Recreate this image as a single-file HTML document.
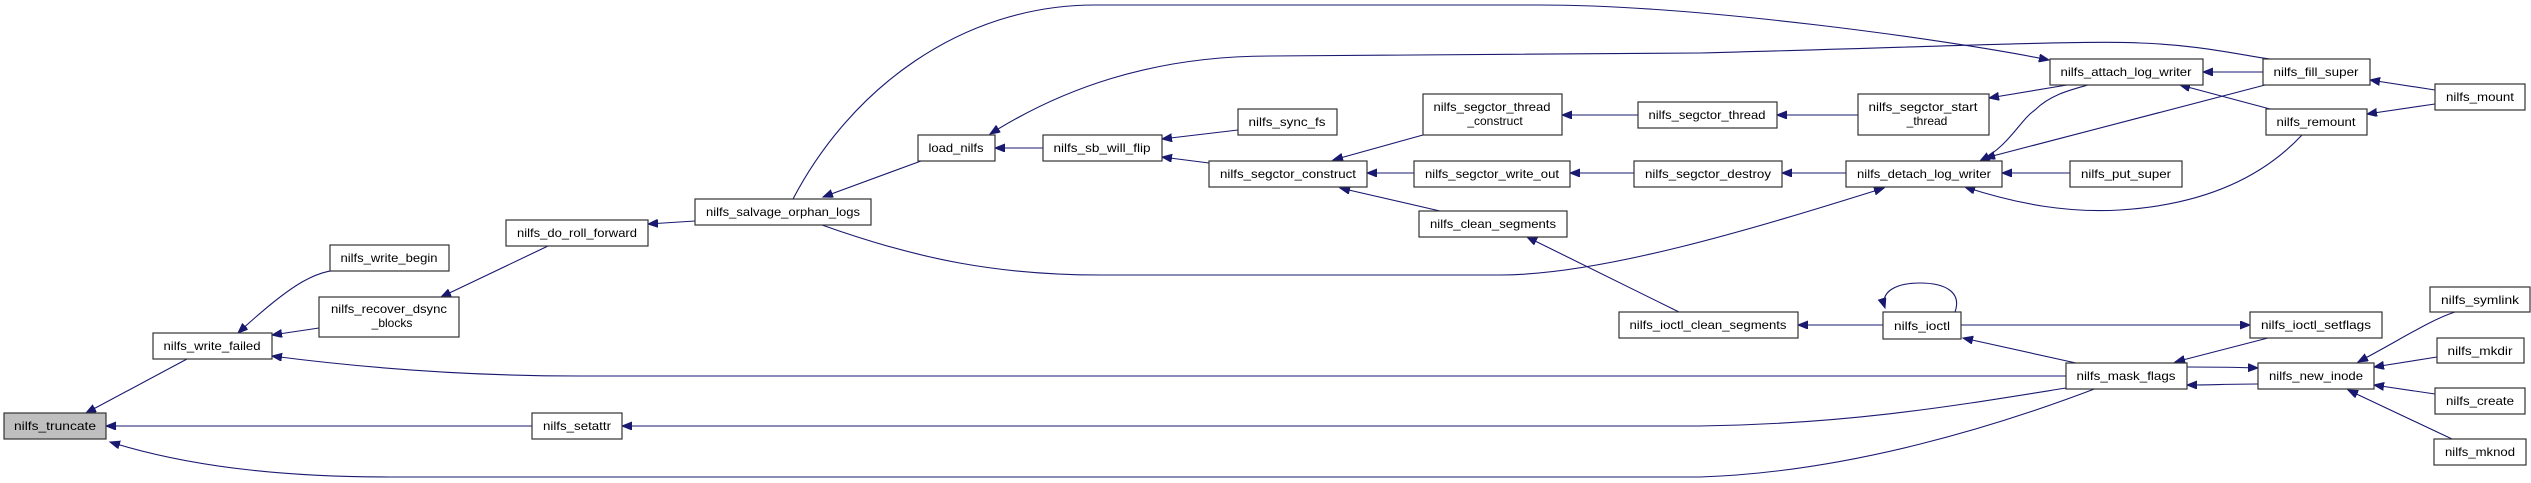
<!DOCTYPE html>
<html><head><meta charset="utf-8"><style>
html,body{margin:0;padding:0;background:#fff;}
svg{display:block;}
text{font-family:"Liberation Sans",sans-serif;font-size:12px;fill:#000;}
.n{fill:#fff;stroke:#333;stroke-width:1.2;}
.e{fill:none;stroke:#191970;stroke-width:1.1;}
</style></head><body>
<svg width="2531" height="483" viewBox="0 0 2531 483" xmlns="http://www.w3.org/2000/svg">
<defs>
<marker id="s" markerUnits="userSpaceOnUse" markerWidth="12" markerHeight="9" refX="10" refY="4" orient="auto-start-reverse"><path d="M0,0 L10,4 L0,8 z" fill="#191970" stroke="#191970"/></marker>
</defs>
<g class="e">
<path marker-start="url(#s)" d="M86,413 L187,359"/>
<path marker-start="url(#s)" d="M106,426 L532,426"/>
<path marker-start="url(#s)" d="M110,442 C200,470 300,477 390,477 L1700,477 C1850,472 2000,425 2097,388"/>
<path marker-start="url(#s)" d="M238,333 C290,285 320,265 352,271"/>
<path marker-start="url(#s)" d="M272,335 L319,328"/>
<path marker-start="url(#s)" d="M272,356 C380,370 480,376 580,376 L2066,376"/>
<path marker-start="url(#s)" d="M441,297 L548,246"/>
<path marker-start="url(#s)" d="M648,224 L695,221"/>
<path marker-start="url(#s)" d="M823,197 L921,161"/>
<path marker-start="url(#s)" d="M2049,60 C1950,40 1700,5 1540,5 L1095,5 C960,5 850,90 793,199"/>
<path marker-start="url(#s)" d="M1884,188 C1750,230 1600,275 1500,275 L1100,275 C1000,275 920,260 822,225"/>
<path marker-start="url(#s)" d="M990,134 C1060,90 1150,56 1270,56 L1700,53 C1900,48 2080,40 2140,43 C2200,45 2240,55 2270,59"/>
<path marker-start="url(#s)" d="M995,148 L1043,148"/>
<path marker-start="url(#s)" d="M1162,139 L1238,130"/>
<path marker-start="url(#s)" d="M1162,157 L1209,163"/>
<path marker-start="url(#s)" d="M1333,160 L1423,135"/>
<path marker-start="url(#s)" d="M1367,173 L1414,173"/>
<path marker-start="url(#s)" d="M1340,188 L1440,211"/>
<path marker-start="url(#s)" d="M1562,115 L1638,115"/>
<path marker-start="url(#s)" d="M1777,115 L1858,115"/>
<path marker-start="url(#s)" d="M1989,98 L2067,85"/>
<path marker-start="url(#s)" d="M1570,173 L1634,173"/>
<path marker-start="url(#s)" d="M1782,173 L1846,173"/>
<path marker-start="url(#s)" d="M1980,161 C2010,145 2020,120 2035,110 C2050,95 2070,90 2088,85"/>
<path marker-start="url(#s)" d="M1985,158 L2265,85"/>
<path marker-start="url(#s)" d="M2002,173 L2070,173"/>
<path marker-start="url(#s)" d="M1965,187 C2020,205 2070,213 2120,210 C2200,205 2260,180 2302,135"/>
<path marker-start="url(#s)" d="M2203,72 L2263,72"/>
<path marker-start="url(#s)" d="M2180,85 L2270,109"/>
<path marker-start="url(#s)" d="M2370,80 L2435,90"/>
<path marker-start="url(#s)" d="M2367,114 L2435,104"/>
<path marker-start="url(#s)" d="M1527,237 L1679,312"/>
<path marker-start="url(#s)" d="M1798,325 L1883,325"/>
<path marker-start="url(#s)" d="M1885,308 C1880,292 1895,283 1920,283 C1945,283 1962,292 1955,312"/>
<path marker-start="url(#s)" d="M2250,325 L1960,325"/>
<path marker-start="url(#s)" d="M1963,338 L2076,363"/>
<path marker-start="url(#s)" d="M2175,362 L2268,338"/>
<path marker-start="url(#s)" d="M2258,368 C2230,367 2210,367 2187,367"/>
<path marker-start="url(#s)" d="M2187,385 C2210,385 2230,384 2258,384"/>
<path marker-start="url(#s)" d="M2358,362 C2400,340 2430,320 2455,312"/>
<path marker-start="url(#s)" d="M2374,367 L2437,357"/>
<path marker-start="url(#s)" d="M2374,385 L2435,394"/>
<path marker-start="url(#s)" d="M2348,390 L2452,439"/>
<path marker-start="url(#s)" d="M622,426 L1700,426 C1850,424 1960,405 2066,388"/>
</g>
<g>
<rect x="4" y="413" width="102" height="26" fill="#bfbfbf" stroke="#333" stroke-width="1.2"/>
<text x="55" y="430" text-anchor="middle" textLength="82" lengthAdjust="spacingAndGlyphs">nilfs_truncate</text>

<rect class="n" x="153" y="333" width="119" height="26"/><text x="212" y="350" text-anchor="middle" textLength="97" lengthAdjust="spacingAndGlyphs">nilfs_write_failed</text>
<rect class="n" x="330" y="245" width="119" height="26"/><text x="389" y="262" text-anchor="middle" textLength="97" lengthAdjust="spacingAndGlyphs">nilfs_write_begin</text>
<rect class="n" x="319" y="297" width="140" height="40"/><text x="389" y="313" text-anchor="middle" textLength="116" lengthAdjust="spacingAndGlyphs">nilfs_recover_dsync</text><text x="392" y="327" text-anchor="middle">_blocks</text>
<rect class="n" x="506" y="220" width="142" height="26"/><text x="577" y="237" text-anchor="middle" textLength="120" lengthAdjust="spacingAndGlyphs">nilfs_do_roll_forward</text>
<rect class="n" x="695" y="199" width="176" height="26"/><text x="783" y="216" text-anchor="middle" textLength="154" lengthAdjust="spacingAndGlyphs">nilfs_salvage_orphan_logs</text>
<rect class="n" x="532" y="413" width="90" height="26"/><text x="577" y="430" text-anchor="middle" textLength="68" lengthAdjust="spacingAndGlyphs">nilfs_setattr</text>
<rect class="n" x="918" y="135" width="77" height="26"/><text x="956" y="152" text-anchor="middle" textLength="55" lengthAdjust="spacingAndGlyphs">load_nilfs</text>
<rect class="n" x="1043" y="135" width="119" height="26"/><text x="1102" y="152" text-anchor="middle" textLength="97" lengthAdjust="spacingAndGlyphs">nilfs_sb_will_flip</text>
<rect class="n" x="1238" y="109" width="99" height="26"/><text x="1287" y="126" text-anchor="middle" textLength="77" lengthAdjust="spacingAndGlyphs">nilfs_sync_fs</text>
<rect class="n" x="1423" y="94" width="139" height="41"/><text x="1492" y="111" text-anchor="middle" textLength="117" lengthAdjust="spacingAndGlyphs">nilfs_segctor_thread</text><text x="1495" y="125" text-anchor="middle">_construct</text>
<rect class="n" x="1209" y="161" width="158" height="26"/><text x="1288" y="178" text-anchor="middle" textLength="136" lengthAdjust="spacingAndGlyphs">nilfs_segctor_construct</text>
<rect class="n" x="1414" y="161" width="156" height="26"/><text x="1492" y="178" text-anchor="middle" textLength="134" lengthAdjust="spacingAndGlyphs">nilfs_segctor_write_out</text>
<rect class="n" x="1419" y="211" width="148" height="26"/><text x="1493" y="228" text-anchor="middle" textLength="126" lengthAdjust="spacingAndGlyphs">nilfs_clean_segments</text>
<rect class="n" x="1638" y="102" width="139" height="26"/><text x="1707" y="119" text-anchor="middle" textLength="117" lengthAdjust="spacingAndGlyphs">nilfs_segctor_thread</text>
<rect class="n" x="1634" y="161" width="148" height="26"/><text x="1708" y="178" text-anchor="middle" textLength="126" lengthAdjust="spacingAndGlyphs">nilfs_segctor_destroy</text>
<rect class="n" x="1619" y="312" width="179" height="26"/><text x="1708" y="329" text-anchor="middle" textLength="157" lengthAdjust="spacingAndGlyphs">nilfs_ioctl_clean_segments</text>
<rect class="n" x="1858" y="94" width="131" height="41"/><text x="1923" y="111" text-anchor="middle" textLength="109" lengthAdjust="spacingAndGlyphs">nilfs_segctor_start</text><text x="1927" y="125" text-anchor="middle">_thread</text>
<rect class="n" x="2050" y="59" width="153" height="26"/><text x="2126" y="76" text-anchor="middle" textLength="131" lengthAdjust="spacingAndGlyphs">nilfs_attach_log_writer</text>
<rect class="n" x="1846" y="161" width="156" height="26"/><text x="1924" y="178" text-anchor="middle" textLength="134" lengthAdjust="spacingAndGlyphs">nilfs_detach_log_writer</text>
<rect class="n" x="2070" y="161" width="112" height="26"/><text x="2126" y="178" text-anchor="middle" textLength="90" lengthAdjust="spacingAndGlyphs">nilfs_put_super</text>
<rect class="n" x="2263" y="59" width="107" height="26"/><text x="2316" y="76" text-anchor="middle" textLength="85" lengthAdjust="spacingAndGlyphs">nilfs_fill_super</text>
<rect class="n" x="2266" y="109" width="101" height="26"/><text x="2316" y="126" text-anchor="middle" textLength="79" lengthAdjust="spacingAndGlyphs">nilfs_remount</text>
<rect class="n" x="2435" y="84" width="90" height="26"/><text x="2480" y="101" text-anchor="middle" textLength="68" lengthAdjust="spacingAndGlyphs">nilfs_mount</text>
<rect class="n" x="1883" y="312" width="78" height="27"/><text x="1922" y="330" text-anchor="middle" textLength="56" lengthAdjust="spacingAndGlyphs">nilfs_ioctl</text>
<rect class="n" x="2250" y="312" width="132" height="26"/><text x="2316" y="329" text-anchor="middle" textLength="110" lengthAdjust="spacingAndGlyphs">nilfs_ioctl_setflags</text>
<rect class="n" x="2066" y="363" width="121" height="26"/><text x="2126" y="380" text-anchor="middle" textLength="99" lengthAdjust="spacingAndGlyphs">nilfs_mask_flags</text>
<rect class="n" x="2258" y="363" width="116" height="26"/><text x="2316" y="380" text-anchor="middle" textLength="94" lengthAdjust="spacingAndGlyphs">nilfs_new_inode</text>
<rect class="n" x="2430" y="287" width="100" height="25"/><text x="2480" y="304" text-anchor="middle" textLength="78" lengthAdjust="spacingAndGlyphs">nilfs_symlink</text>
<rect class="n" x="2437" y="338" width="87" height="25"/><text x="2480" y="355" text-anchor="middle" textLength="65" lengthAdjust="spacingAndGlyphs">nilfs_mkdir</text>
<rect class="n" x="2435" y="388" width="90" height="26"/><text x="2480" y="405" text-anchor="middle" textLength="68" lengthAdjust="spacingAndGlyphs">nilfs_create</text>
<rect class="n" x="2434" y="439" width="92" height="26"/><text x="2480" y="456" text-anchor="middle" textLength="70" lengthAdjust="spacingAndGlyphs">nilfs_mknod</text>
</g>
</svg>
</body></html>
